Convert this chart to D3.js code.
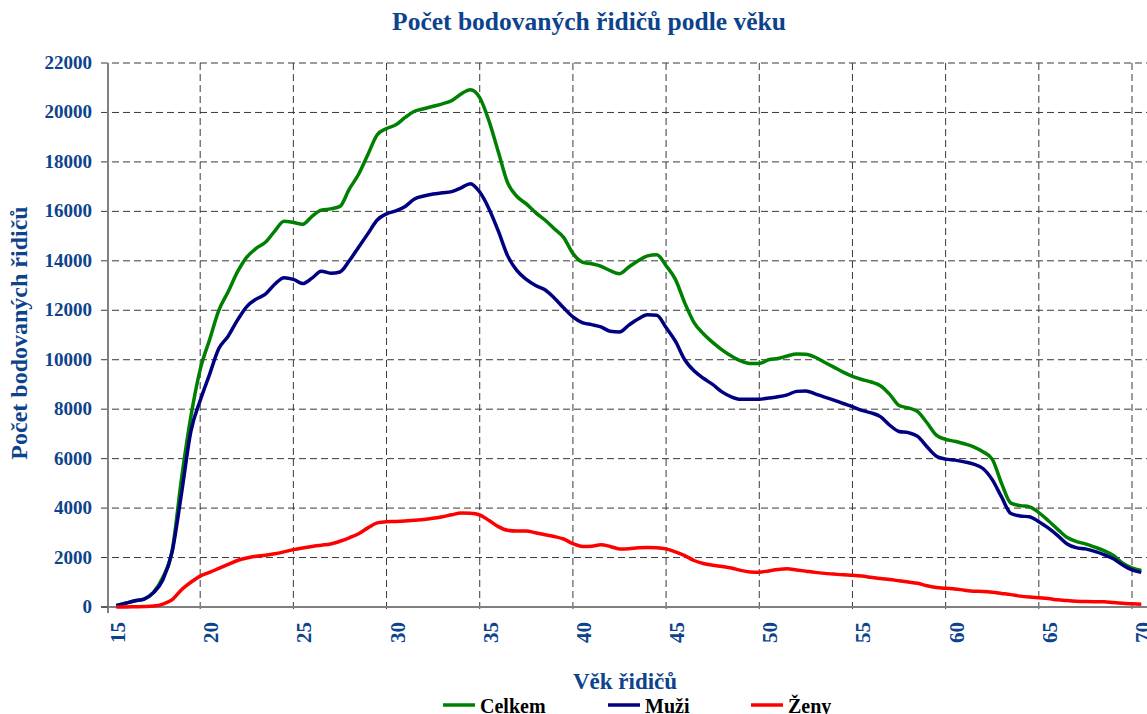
<!DOCTYPE html>
<html>
<head>
<meta charset="utf-8">
<script src="https://cdn.jsdelivr.net/npm/d3@7"></script>
<style>
  body { margin: 0; background: #fff; }
  .chart text { font-family: "Liberation Serif", "Times New Roman", serif; font-weight: bold; }
</style>
</head>
<body>
<div class="chart"></div>
<script>
"use strict"

// věk (půlroky)
let ages = [];
for (let a = 15.5; a <= 70.5; a += 0.5) ages.push(a);

let celkem = [60,150,250,330,600,1200,2300,5200,7700,9600,10800,12000,12750,13550,14150,14500,14750,15200,15600,15550,15480,15800,16050,16100,16200,16900,17500,18300,19100,19350,19500,19800,20050,20150,20250,20350,20480,20750,20920,20600,19650,18400,17150,16600,16300,15950,15650,15300,14950,14300,13950,13880,13780,13600,13480,13750,14000,14200,14250,13800,13250,12300,11500,11050,10700,10400,10150,9950,9850,9850,10000,10050,10150,10230,10220,10100,9900,9700,9500,9330,9200,9100,8950,8600,8150,8050,7900,7450,6950,6780,6700,6600,6480,6280,5980,5000,4200,4100,4050,3820,3500,3150,2820,2650,2550,2420,2280,2080,1770,1580,1480];

let muzi = [50,150,250,320,580,1100,2250,4600,7100,8350,9400,10450,10950,11600,12150,12450,12650,13050,13320,13250,13080,13300,13580,13500,13550,14000,14550,15100,15650,15900,16020,16200,16500,16620,16700,16750,16800,16950,17120,16780,16100,15200,14200,13600,13250,13000,12830,12500,12100,11730,11500,11420,11330,11150,11120,11400,11650,11820,11800,11300,10750,10000,9550,9250,9000,8700,8500,8400,8400,8400,8450,8500,8580,8720,8740,8620,8490,8370,8230,8100,7950,7850,7700,7350,7100,7050,6900,6480,6100,5980,5940,5870,5780,5600,5150,4450,3780,3680,3650,3450,3200,2900,2560,2400,2350,2250,2120,1950,1700,1500,1400];

let zeny = [0,0,10,20,40,120,300,700,1000,1250,1400,1560,1720,1880,1980,2050,2090,2150,2230,2320,2390,2450,2500,2550,2660,2800,2960,3200,3400,3450,3460,3480,3510,3540,3590,3650,3730,3800,3790,3720,3500,3250,3100,3070,3070,3000,2920,2850,2750,2560,2450,2460,2520,2450,2350,2360,2400,2410,2400,2350,2230,2080,1880,1760,1690,1640,1580,1480,1420,1410,1460,1520,1550,1500,1450,1400,1360,1330,1300,1280,1250,1200,1150,1110,1060,1010,960,860,790,755,730,680,640,630,600,550,500,440,400,370,340,290,260,235,220,215,215,180,150,130,110];

let xTicks = [15,20,25,30,35,40,45,50,55,60,65,70];
let yTicks = [0,2000,4000,6000,8000,10000,12000,14000,16000,18000,20000,22000];

let series = [
  { name: "Celkem", values: celkem, color: "#008000" },
  { name: "Muži", values: muzi, color: "#000080" },
  { name: "Ženy", values: zeny, color: "#ff0000" }
];

let W = 1147, H = 714;
let blue = "#0c438c";

let s = d3.select(".chart")
  .append("svg")
  .attr("width", W)
  .attr("height", H);

let x = d3.scaleLinear().domain([15, 70]).range([107, 1132]);
let y = d3.scaleLinear().domain([0, 22000]).range([607, 63]);

// grid
s.selectAll("line.hg")
  .data(yTicks.filter(function(d){ return d > 0; }))
  .enter()
  .append("line")
  .attr("x1", 101).attr("x2", W)
  .attr("y1", function(d){ return y(d); })
  .attr("y2", function(d){ return y(d); })
  .attr("stroke", "#3a3a3a")
  .attr("stroke-width", 1)
  .attr("stroke-dasharray", "7,4");

s.selectAll("line.vg")
  .data(xTicks.filter(function(d){ return d > 15; }))
  .enter()
  .append("line")
  .attr("x1", function(d){ return x(d); })
  .attr("x2", function(d){ return x(d); })
  .attr("y1", 63).attr("y2", 613)
  .attr("stroke", "#3a3a3a")
  .attr("stroke-width", 1)
  .attr("stroke-dasharray", "7,4");

// axes lines
s.append("line").attr("x1", 108).attr("x2", 108).attr("y1", 63).attr("y2", 613)
  .attr("stroke", "#808080").attr("stroke-width", 2);
s.append("line").attr("x1", 101).attr("x2", W).attr("y1", 607).attr("y2", 607)
  .attr("stroke", "#808080").attr("stroke-width", 2);
s.append("line").attr("x1", 101).attr("x2", 108).attr("y1", 607).attr("y2", 607)
  .attr("stroke", "#3a3a3a");

// y tick labels
s.selectAll("text.yl")
  .data(yTicks)
  .enter()
  .append("text")
  .attr("x", 92)
  .attr("y", function(d){ return y(d) + 6; })
  .attr("text-anchor", "end")
  .attr("font-size", 19)
  .attr("fill", blue)
  .text(function(d){ return d; });

// x tick labels
s.selectAll("text.xl")
  .data(xTicks)
  .enter()
  .append("text")
  .attr("transform", function(d){ return "translate(" + (x(d) + 18) + ",622) rotate(-90)"; })
  .attr("text-anchor", "end")
  .attr("font-size", 21)
  .attr("fill", blue)
  .text(function(d){ return d; });

// lines
let line = d3.line()
  .x(function(d){ return x(d[0]); })
  .y(function(d){ return y(d[1]); })
  .curve(d3.curveMonotoneX);

s.selectAll("path.series")
  .data(series)
  .enter()
  .append("path")
  .attr("fill", "none")
  .attr("stroke", function(d){ return d.color; })
  .attr("stroke-width", 3.5)
  .attr("stroke-linejoin", "round")
  .attr("d", function(d){ return line(ages.map(function(a, i){ return [a, d.values[i]]; })); });

// titles
s.append("text")
  .attr("x", 589).attr("y", 30)
  .attr("text-anchor", "middle")
  .attr("font-size", 25.5)
  .attr("fill", blue)
  .text("Počet bodovaných řidičů podle věku");

s.append("text")
  .attr("transform", "translate(27,333) rotate(-90)")
  .attr("text-anchor", "middle")
  .attr("font-size", 24)
  .attr("fill", blue)
  .text("Počet bodovaných řidičů");

s.append("text")
  .attr("x", 625).attr("y", 689)
  .attr("text-anchor", "middle")
  .attr("font-size", 23)
  .attr("fill", blue)
  .text("Věk řidičů");

// legend
let lx = [443, 608, 751];
let lg = s.selectAll("g.leg")
  .data(series)
  .enter()
  .append("g")
  .attr("transform", function(d, i){ return "translate(" + lx[i] + ",705)"; });
lg.append("line")
  .attr("x1", 0).attr("x2", 32)
  .attr("stroke", function(d){ return d.color; })
  .attr("stroke-width", 3.5);
lg.append("text")
  .attr("x", 37).attr("y", 8)
  .attr("font-size", 20)
  .attr("fill", "#000")
  .text(function(d){ return d.name; });
</script>
</body>
</html>
